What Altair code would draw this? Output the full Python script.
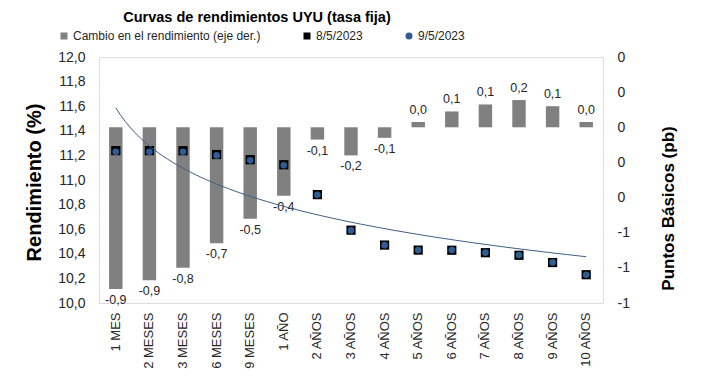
import altair as alt
import pandas as pd

plazos = ["1 MES", "2 MESES", "3 MESES", "6 MESES", "9 MESES", "1 AÑO", "2 AÑOS",
          "3 AÑOS", "4 AÑOS", "5 AÑOS", "6 AÑOS", "7 AÑOS", "8 AÑOS", "9 AÑOS", "10 AÑOS"]
cambio_pb = [-0.92, -0.87, -0.80, -0.66, -0.52, -0.39, -0.07, -0.16, -0.06,
             0.03, 0.09, 0.13, 0.155, 0.12, 0.03]
rend_0805 = [11.239, 11.239, 11.238, 11.207, 11.165, 11.124, 10.881, 10.592, 10.471,
             10.430, 10.429, 10.409, 10.388, 10.329, 10.230]
rend_0905 = [11.23, 11.23, 11.23, 11.20, 11.16, 11.12, 10.88, 10.59, 10.47,
             10.43, 10.43, 10.41, 10.39, 10.33, 10.23]
serie_labels = ["Cambio en el rendimiento (eje der.)", "8/5/2023", "9/5/2023"]
serie_colors = ["#808080", "#000000", "#2F5C93"]
serie_shapes = ["square", "square", "circle"]
left_ticks = [10.0, 10.2, 10.4, 10.6, 10.8, 11.0, 11.2, 11.4, 11.6, 11.8, 12.0]
right_ticks = [-1.0, -0.8, -0.6, -0.4, -0.2, 0.0, 0.2, 0.4]

FONT = "Liberation Sans"
TXT = "#262626"

bars_df = pd.DataFrame({
    "plazo": plazos,
    "cambio": cambio_pb,
    "etiqueta": [f"{v:.1f}".replace(".", ",") for v in cambio_pb],
})
pts_df = pd.DataFrame({
    "plazo": plazos * 2,
    "idx": list(range(1, len(plazos) + 1)) * 2,
    "serie": [serie_labels[1]] * len(plazos) + [serie_labels[2]] * len(plazos),
    "valor": rend_0805 + rend_0905,
})

x_enc = alt.X(
    "plazo:N", sort=plazos, title=None,
    scale=alt.Scale(type="band", paddingInner=0.6, paddingOuter=0.3),
    axis=alt.Axis(labelAngle=-90, labelFontSize=13, labelColor=TXT, labelFont=FONT,
                  labelPadding=9, ticks=False, tickSize=0, domain=False, grid=False),
)

y_right = alt.Y(
    "cambio:Q",
    scale=alt.Scale(domain=[-1.0, 0.4], nice=False, zero=False),
    axis=alt.Axis(orient="right", values=right_ticks, grid=False, ticks=False, tickSize=0,
                  domain=False, labelExpr="'' + (round(datum.value) + 0)",
                  labelFontSize=14, labelColor=TXT, labelFont=FONT, labelPadding=14,
                  title="Puntos Básicos (pb)", titleFontSize=17, titleFont=FONT,
                  titleFontWeight="bold", titleColor="#000000", titleAngle=270,
                  titleX=65, titleY=151, titleAlign="center", titleBaseline="middle"),
)

bars = alt.Chart(bars_df).mark_bar(color="#808080").encode(x=x_enc, y=y_right)
lab_neg = alt.Chart(bars_df).transform_filter("datum.cambio < 0").mark_text(
    baseline="top", dy=5, fontSize=12.5, font=FONT, color=TXT
).encode(x=x_enc, y=y_right, text="etiqueta:N")
lab_pos = alt.Chart(bars_df).transform_filter("datum.cambio >= 0").mark_text(
    baseline="bottom", dy=-5, fontSize=12.5, font=FONT, color=TXT
).encode(x=x_enc, y=y_right, text="etiqueta:N")
right_layer = alt.layer(bars, lab_neg, lab_pos)

y_left = alt.Y(
    "valor:Q",
    scale=alt.Scale(domain=[10.0, 12.0], nice=False, zero=False),
    axis=alt.Axis(orient="left", values=left_ticks, grid=False, ticks=False, tickSize=0,
                  domain=False, labelExpr="replace(format(datum.value, '.1f'), '.', ',')",
                  labelFontSize=14, labelColor=TXT, labelFont=FONT, labelPadding=14,
                  title="Rendimiento (%)", titleFontSize=20, titleFont=FONT,
                  titleFontWeight="bold", titleColor="#000000", titleAngle=270,
                  titleX=-65, titleY=125, titleAlign="center", titleBaseline="middle"),
)
color_enc = alt.Color(
    "serie:N",
    scale=alt.Scale(domain=serie_labels, range=serie_colors),
    legend=alt.Legend(title=None, orient="none", legendX=-41, legendY=-27,
                      direction="horizontal", labelFontSize=12, labelFont=FONT,
                      labelColor=TXT, symbolSize=49, labelOffset=3, columnPadding=40,
                      padding=0, symbolStrokeWidth=0, labelLimit=400),
)
shape_enc = alt.Shape("serie:N", scale=alt.Scale(domain=serie_labels, range=serie_shapes))

sq = alt.Chart(pts_df).transform_filter(
    alt.datum.serie == serie_labels[1]
).mark_point(filled=True, size=85, opacity=1).encode(x=x_enc, y=y_left, color=color_enc, shape=shape_enc)
circ = alt.Chart(pts_df).transform_filter(
    alt.datum.serie == serie_labels[2]
).mark_point(filled=True, size=44, opacity=1).encode(x=x_enc, y=y_left, color=color_enc, shape=shape_enc)
left_layer = alt.layer(sq, circ)

inner = alt.layer(right_layer, left_layer).resolve_scale(y="independent")

trend = alt.Chart(pts_df).transform_filter(
    alt.datum.serie == serie_labels[2]
).transform_regression(
    "idx", "valor", method="log", extent=[1, 15]
).mark_line(color="#3E5F87", strokeWidth=1).encode(
    x=alt.X("idx:Q", scale=alt.Scale(domain=[0.5, 15.5], nice=False, zero=False), axis=None),
    y=alt.Y("valor:Q", scale=alt.Scale(domain=[10.0, 12.0], nice=False, zero=False), axis=None),
)

chart = alt.layer(inner, trend).resolve_scale(x="independent", y="independent").properties(
    width=504, height=246,
    title=alt.TitleParams(text="Curvas de rendimientos UYU (tasa fija)", fontSize=14.5,
                          fontWeight="bold", font=FONT, color="#000000",
                          anchor="middle", dx=-94, offset=5),
    padding={"left": 91, "top": 49, "right": 99, "bottom": 72},
    autosize=alt.AutoSizeParams(type="none"),
).configure_view(stroke=None).configure(font=FONT)

chart.save("out.html", embed_options={"renderer": "svg", "actions": False})
